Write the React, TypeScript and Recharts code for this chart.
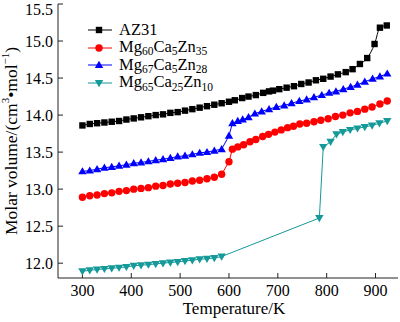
import React from 'react';
import { LineChart, Line, XAxis, YAxis, Legend } from 'recharts';

// AZ31
const az31T = [300, 315, 330, 345, 360, 375, 390, 405, 420, 435, 450, 465, 480, 495, 510, 525, 540, 555, 570, 585, 600, 612, 627, 640, 655, 670, 682, 690, 703, 718, 733, 748, 763, 778, 793, 808, 823, 839, 853, 868, 883, 898, 909, 923];
const az31V = [13.86, 13.88, 13.89, 13.9, 13.91, 13.92, 13.94, 13.955, 13.97, 13.985, 14.0, 14.01, 14.03, 14.04, 14.06, 14.08, 14.1, 14.12, 14.14, 14.16, 14.18, 14.2, 14.23, 14.25, 14.27, 14.3, 14.32, 14.33, 14.35, 14.37, 14.39, 14.42, 14.44, 14.47, 14.49, 14.52, 14.55, 14.58, 14.62, 14.69, 14.77, 14.96, 15.18, 15.21];

// Mg60Ca5Zn35
const mg60T = [300, 315, 330, 345, 360, 375, 390, 405, 420, 435, 450, 465, 480, 495, 510, 525, 540, 555, 570, 585, 600, 607, 618, 630, 643, 655, 669, 681, 694, 707, 720, 732, 745, 759, 774, 788, 803, 818, 833, 848, 863, 878, 893, 909, 924];
const mg60V = [12.89, 12.91, 12.92, 12.94, 12.95, 12.97, 12.98, 13.0, 13.01, 13.02, 13.04, 13.05, 13.07, 13.08, 13.09, 13.11, 13.12, 13.14, 13.16, 13.2, 13.37, 13.54, 13.57, 13.6, 13.64, 13.67, 13.71, 13.74, 13.77, 13.8, 13.83, 13.85, 13.88, 13.89, 13.91, 13.93, 13.95, 13.98, 14.0, 14.03, 14.05, 14.08, 14.11, 14.15, 14.19];

// Mg67Ca5Zn28
const mg67T = [300, 315, 330, 345, 360, 375, 390, 405, 420, 435, 450, 465, 480, 495, 510, 525, 540, 555, 570, 585, 600, 607, 618, 628, 640, 653, 667, 682, 697, 713, 728, 744, 759, 774, 790, 805, 819, 834, 849, 863, 878, 894, 909, 924];
const mg67V = [13.24, 13.25, 13.27, 13.29, 13.3, 13.315, 13.33, 13.35, 13.36, 13.375, 13.39, 13.405, 13.42, 13.44, 13.45, 13.47, 13.49, 13.5, 13.52, 13.54, 13.72, 13.89, 13.92, 13.94, 13.97, 14.02, 14.05, 14.08, 14.11, 14.13, 14.16, 14.19, 14.21, 14.24, 14.27, 14.3, 14.32, 14.35, 14.38, 14.41, 14.45, 14.49, 14.52, 14.56];

// Mg65Ca25Zn10
const mg65T = [300, 315, 330, 345, 360, 375, 390, 405, 420, 435, 450, 465, 480, 495, 510, 525, 540, 555, 570, 585, 785, 793, 808, 820, 833, 848, 863, 878, 893, 908, 924];
const mg65V = [11.89, 11.905, 11.914, 11.923, 11.93, 11.94, 11.95, 11.964, 11.973, 11.98, 11.99, 12.0, 12.01, 12.017, 12.03, 12.04, 12.054, 12.06, 12.07, 12.09, 12.61, 13.57, 13.64, 13.74, 13.77, 13.8, 13.82, 13.84, 13.86, 13.89, 13.92];

const xTicks = [300, 400, 500, 600, 700, 800, 900];
const yTicks = [12.0, 12.5, 13.0, 13.5, 14.0, 14.5, 15.0, 15.5];

const FONT = '"Liberation Serif", "Times New Roman", serif';
const AXIS = '#222';

type Shape = 'square' | 'circle' | 'up' | 'down';

const zip = (t: number[], v: number[]) => t.map((x, i) => ({ t: x, v: v[i] }));

const series = [
  { key: 'az31', data: zip(az31T, az31V), color: '#000000', shape: 'square' as Shape, curve: 'monotone', label: [['AZ31', '']] },
  { key: 'mg60', data: zip(mg60T, mg60V), color: '#ff0000', shape: 'circle' as Shape, curve: 'linear', label: [['Mg', '60'], ['Ca', '5'], ['Zn', '35']] },
  { key: 'mg67', data: zip(mg67T, mg67V), color: '#0000ff', shape: 'up' as Shape, curve: 'linear', label: [['Mg', '67'], ['Ca', '5'], ['Zn', '28']] },
  { key: 'mg65', data: zip(mg65T, mg65V), color: '#159999', shape: 'down' as Shape, curve: 'linear', label: [['Mg', '65'], ['Ca', '25'], ['Zn', '10']] },
];

function Marker({ cx, cy, shape, color }: { cx: number; cy: number; shape: Shape; color: string }) {
  if (shape === 'square') return <rect x={cx - 3.2} y={cy - 3.2} width={6.4} height={6.4} fill={color} />;
  if (shape === 'circle') return <circle cx={cx} cy={cy} r={3.7} fill={color} />;
  if (shape === 'up') return <path d={`M${cx},${cy - 4.2}L${cx + 4.2},${cy + 3}L${cx - 4.2},${cy + 3}Z`} fill={color} />;
  return <path d={`M${cx},${cy + 4.2}L${cx + 4.2},${cy - 3}L${cx - 4.2},${cy - 3}Z`} fill={color} />;
}

const makeDot = (shape: Shape, color: string) => (p: any) => {
  if (p.cx == null || p.cy == null) return <g key={p.index} />;
  return <Marker key={p.index} cx={p.cx} cy={p.cy} shape={shape} color={color} />;
};

function LegendContent() {
  return (
    <div style={{ fontFamily: FONT, fontSize: 16.5, color: '#000' }}>
      {series.map((s) => (
        <div key={s.key} style={{ height: 17.8, display: 'flex', alignItems: 'center', whiteSpace: 'nowrap' }}>
          <svg width={26} height={12} style={{ display: 'block' }}>
            <line x1={1} y1={6} x2={25} y2={6} stroke={s.color} strokeWidth={1} />
            <Marker cx={12} cy={6} shape={s.shape} color={s.color} />
          </svg>
          <span style={{ marginLeft: 6, lineHeight: '17.8px' }}>
            {s.label.map(([a, b], i) => (
              <React.Fragment key={i}>
                {a}
                {b ? <span style={{ fontSize: 11.5, position: 'relative', top: 3.5 }}>{b}</span> : null}
              </React.Fragment>
            ))}
          </span>
        </div>
      ))}
    </div>
  );
}

function YTitle(props: any) {
  const vb = props.viewBox;
  const x = vb.x + 11;
  const y = vb.y + vb.height / 2;
  return (
    <text x={x} y={y} transform={`rotate(-90, ${x}, ${y})`} textAnchor="middle" dominantBaseline="central" fontFamily={FONT} fontSize={17.5} fill="#000">
      Molar volume/(cm<tspan dy={-6} fontSize={11}>3</tspan><tspan dy={6}>•mol</tspan><tspan dy={-6} fontSize={11}>−1</tspan><tspan dy={6}>)</tspan>
    </text>
  );
}

function XTitle(props: any) {
  const vb = props.viewBox;
  return (
    <text x={vb.x + vb.width / 2 + 6} y={vb.y + 36} textAnchor="middle" fontFamily={FONT} fontSize={17} fill="#000">
      Temperature/K
    </text>
  );
}

export default function App() {
  return (
    <div style={{ position: 'absolute', left: 0, top: 0, width: 400, height: 322, background: '#fff' }}>
      <LineChart width={400} height={322} margin={{ top: 4, right: 2, left: 0, bottom: 0 }}>
        <XAxis
          dataKey="t"
          type="number"
          domain={[250, 946]}
          ticks={xTicks}
          allowDataOverflow
          height={44}
          tickSize={-5}
          tickMargin={12}
          axisLine={{ stroke: AXIS }}
          tickLine={{ stroke: AXIS }}
          tick={{ fontFamily: FONT, fontSize: 16, fill: '#000' }}
          label={<XTitle />}
        />
        <XAxis xAxisId="top" orientation="top" type="number" domain={[250, 946]} allowDataOverflow height={0} tick={false} tickLine={false} axisLine={{ stroke: AXIS }} />
        <YAxis
          type="number"
          domain={[11.8, 15.5]}
          ticks={yTicks}
          allowDataOverflow
          width={58}
          tickSize={-5}
          tickMargin={10}
          axisLine={{ stroke: AXIS }}
          tickLine={{ stroke: AXIS }}
          tick={{ fontFamily: FONT, fontSize: 16, fill: '#000' }}
          tickFormatter={(v: number) => v.toFixed(1)}
          label={<YTitle />}
        />
        <YAxis yAxisId="right" orientation="right" type="number" domain={[11.8, 15.5]} allowDataOverflow width={0} tick={false} tickLine={false} axisLine={{ stroke: AXIS }} />
        <Legend layout="vertical" align="center" verticalAlign="middle" content={<LegendContent />} wrapperStyle={{ left: 87, top: 21, width: 'auto' }} />
        {series.map((s) => (
          <Line
            key={s.key}
            type={s.curve as any}
            data={s.data}
            dataKey="v"
            name={s.key}
            stroke={s.color}
            strokeWidth={1}
            dot={makeDot(s.shape, s.color)}
            activeDot={false}
            isAnimationActive={false}
          />
        ))}
      </LineChart>
    </div>
  );
}
